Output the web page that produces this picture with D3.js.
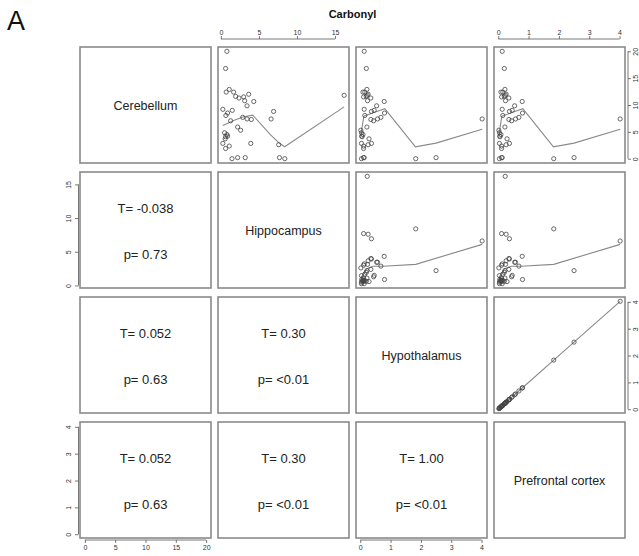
<!DOCTYPE html>
<html>
<head>
<meta charset="utf-8">
<script src="https://cdn.jsdelivr.net/npm/d3@7"></script>
<style>
  body { margin: 0; background: #fff; }
  svg { font-family: 'Liberation Sans', Arial, sans-serif; }
  .frame { fill: none; stroke: #8a8a8a; stroke-width: 1.6; }
  .pt { fill: none; stroke: #444; stroke-width: 0.8; }
  .smooth { fill: none; stroke: #8a8a8a; stroke-width: 1.1; }
  .tick line, .axisLine { stroke: #555; stroke-width: 0.8; }
  .tick text { fill: #333; font-size: 7px; }
</style>
</head>
<body>
<div id="chart"></div>
<script>
const WIDTH = 639;
const HEIGHT = 556;
const LEFT = 80;
const TOP = 47;
const PANEL_W = 131;
const PANEL_H = 116;
const STEP_X = 138;
const STEP_Y = 125;

// variables, in matrix order
const regions = ['Cerebellum', 'Hippocampus', 'Hypothalamus', 'Prefrontal cortex'];

// one value per sample
const cerebellum = [20.0, 16.8, 12.4, 12.9, 12.4, 11.6, 11.3, 11.5, 10.8, 12.0, 10.65, 9.85, 9.2, 9.0, 8.5, 8.05,
  8.8, 7.4, 7.7, 7.4, 7.3, 7.06, 5.9, 5.3, 4.83, 4.5, 4.1, 4.2, 3.7, 2.85, 2.85, 2.35, 1.9, 2.6, 0.0, 0.2, 0.2, 0.2, 0.0, 11.8];
const hippocampus = [0.79, 0.62, 0.70, 1.10, 1.68, 1.94, 2.38, 3.00, 3.13, 3.66, 4.32, 3.44, 0.26, 1.50, 0.88, 0.66,
  6.93, 6.60, 2.87, 3.44, 4.00, 1.28, 2.20, 2.60, 0.49, 0.79, 0.62, 0.88, 0.57, 0.26, 3.93, 1.10, 0.62, 7.60, 1.46, 2.20, 3.20, 7.70, 8.40, 16.20];
const hypothalamus = [0.13, 0.20, 0.09, 0.22, 0.15, 0.20, 0.35, 0.11, 0.24, 0.26, 0.79, 0.54, 0.13, 0.46, 0.80, 0.15,
  0.37, 4.02, 0.68, 0.57, 0.35, 0.44, 0.22, 0.02, 0.04, 0.09, 0.06, 0.05, 0.29, 0.04, 0.37, 0.11, 0.11, 0.26, 0.04, 2.50, 0.13, 0.11, 1.83, 0.23];
const prefrontal = [0.13, 0.20, 0.09, 0.22, 0.15, 0.20, 0.35, 0.11, 0.24, 0.26, 0.79, 0.54, 0.13, 0.46, 0.80, 0.15,
  0.37, 4.02, 0.68, 0.57, 0.35, 0.44, 0.22, 0.02, 0.04, 0.09, 0.06, 0.05, 0.29, 0.04, 0.37, 0.11, 0.11, 0.26, 0.04, 2.50, 0.13, 0.11, 1.83, 0.23];

// smoother lines as drawn in the panels, [x, y]
const smoothHippoCere = [[0.26, 6.2], [1.68, 7.1], [3.0, 7.8], [4.2, 8.1], [6.5, 4.5], [7.6, 3.0], [8.38, 2.23], [16.2, 9.65]];
const smoothHypoCere = [[0.02, 4.5], [0.12, 7.9], [0.45, 8.6], [0.81, 9.3], [1.82, 2.2], [2.5, 2.9], [4.02, 5.5]];
const smoothPrefCere = [[0.02, 4.5], [0.12, 7.9], [0.45, 8.6], [0.81, 9.3], [1.82, 2.2], [2.5, 2.9], [4.02, 5.5]];
const smoothHypoHippo = [[0.03, 1.2], [0.2, 2.45], [0.42, 2.84], [0.75, 2.84], [1.83, 3.13], [4.02, 6.1]];
const smoothPrefHippo = [[0.03, 1.2], [0.2, 2.45], [0.42, 2.84], [0.75, 2.84], [1.83, 3.13], [4.02, 6.1]];
const smoothPrefHypo = [[0.02, 0.02], [0.8, 0.8], [1.83, 1.83], [2.5, 2.5], [4.02, 4.02]];

// Kendall tau and p for the lower panels
const statCells = [[1, 0], [2, 0], [3, 0], [2, 1], [3, 1], [3, 2]];
const tauLabels = ['-0.038', '0.052', '0.052', '0.30', '0.30', '1.00'];
const pLabels = ['0.73', '0.63', '0.63', '<0.01', '<0.01', '<0.01'];

// axis ticks
const cereTicks = [0, 5, 10, 15, 20];
const hippoTicks = [0, 5, 10, 15];
const hypoTicks = [0, 1, 2, 3, 4];
const prefTicks = [0, 1, 2, 3, 4];

const values = [cerebellum, hippocampus, hypothalamus, prefrontal];
const ticks = [cereTicks, hippoTicks, hypoTicks, prefTicks];
const smooths = {
  '0-1': smoothHippoCere, '0-2': smoothHypoCere, '0-3': smoothPrefCere,
  '1-2': smoothHypoHippo, '1-3': smoothPrefHippo, '2-3': smoothPrefHypo
};
const fmt = d3.format('d');
let svg, xScales, yScales;

function paddedDomain(vals) {
  let [lo, hi] = d3.extent(vals);
  let pad = (hi - lo) * 0.04;
  return [lo - pad, hi + pad];
}

function buildScales() {
  xScales = values.map((vals, j) => d3.scaleLinear()
    .domain(paddedDomain(vals))
    .range([LEFT + j * STEP_X, LEFT + j * STEP_X + PANEL_W]));
  yScales = values.map((vals, i) => d3.scaleLinear()
    .domain(paddedDomain(vals))
    .range([TOP + i * STEP_Y + PANEL_H, TOP + i * STEP_Y]));
}

function drawFrames() {
  let cells = d3.cross(d3.range(4), d3.range(4));
  svg.append('g').selectAll('rect')
    .data(cells)
    .join('rect')
    .attr('class', 'frame')
    .attr('x', ([i, j]) => LEFT + j * STEP_X)
    .attr('y', ([i, j]) => TOP + i * STEP_Y)
    .attr('width', PANEL_W)
    .attr('height', PANEL_H);
}

function drawScatter(i, j) {
  let x = xScales[j];
  let y = yScales[i];
  let g = svg.append('g');

  g.append('path')
    .datum(smooths[i + '-' + j])
    .attr('class', 'smooth')
    .attr('d', d3.line().x((d) => x(d[0])).y((d) => y(d[1])));

  g.selectAll('circle')
    .data(values[j].map((v, k) => [v, values[i][k]]))
    .join('circle')
    .attr('class', 'pt')
    .attr('cx', (d) => x(d[0]))
    .attr('cy', (d) => y(d[1]))
    .attr('r', 2.1);
}

function drawNames() {
  svg.append('g').selectAll('text')
    .data(regions)
    .join('text')
    .attr('x', (d, k) => LEFT + k * STEP_X + PANEL_W / 2)
    .attr('y', (d, k) => TOP + k * STEP_Y + PANEL_H / 2 + 4.5)
    .attr('text-anchor', 'middle')
    .attr('font-size', 12.5)
    .attr('fill', '#222')
    .text((d) => d);
}

function drawStats() {
  let g = svg.append('g')
    .attr('font-size', 13)
    .attr('fill', '#222')
    .attr('text-anchor', 'middle');

  statCells.forEach(([i, j], k) => {
    let cx = LEFT + j * STEP_X + PANEL_W / 2;
    let cy = TOP + i * STEP_Y + PANEL_H / 2;
    g.append('text').attr('x', cx).attr('y', cy - 17).text('T= ' + tauLabels[k]);
    g.append('text').attr('x', cx).attr('y', cy + 29).text('p= ' + pLabels[k]);
  });
}

function axisLine(g, tickVals, scale, vertical) {
  let a = scale(tickVals[0]);
  let b = scale(tickVals[tickVals.length - 1]);
  g.append('line')
    .attr('class', 'axisLine')
    .attr('x1', vertical ? 0 : a).attr('x2', vertical ? 0 : b)
    .attr('y1', vertical ? a : 0).attr('y2', vertical ? b : 0);
}

function drawAxes() {
  // top axes on columns 2 and 4
  [1, 3].forEach((j) => {
    let g = svg.append('g').attr('transform', `translate(0, ${TOP - 8})`);
    g.call(d3.axisTop(xScales[j]).tickValues(ticks[j]).tickFormat(fmt).tickSize(3).tickPadding(1.5).tickSizeOuter(0));
    g.select('.domain').remove();
    axisLine(g, ticks[j], xScales[j], false);
  });

  // bottom axes on columns 1 and 3
  [0, 2].forEach((j) => {
    let g = svg.append('g').attr('transform', `translate(0, ${TOP + 3 * STEP_Y + PANEL_H + 2})`);
    g.call(d3.axisBottom(xScales[j]).tickValues(ticks[j]).tickFormat(fmt).tickSize(3).tickPadding(2).tickSizeOuter(0));
    g.select('.domain').remove();
    axisLine(g, ticks[j], xScales[j], false);
  });

  // left axes on rows 2 and 4, labels turned
  [1, 3].forEach((i) => {
    let g = svg.append('g').attr('transform', `translate(${LEFT - 1.5}, 0)`);
    g.call(d3.axisLeft(yScales[i]).tickValues(ticks[i]).tickFormat(fmt).tickSize(3.5).tickSizeOuter(0));
    g.select('.domain').remove();
    g.selectAll('.tick text')
      .attr('x', null).attr('dy', null)
      .attr('text-anchor', 'middle')
      .attr('transform', 'translate(-7.5, 0) rotate(-90)');
    axisLine(g, ticks[i], yScales[i], true);
  });

  // right axes on rows 1 and 3
  [0, 2].forEach((i) => {
    let g = svg.append('g').attr('transform', `translate(${LEFT + 3 * STEP_X + PANEL_W + 3}, 0)`);
    g.call(d3.axisRight(yScales[i]).tickValues(ticks[i]).tickFormat(fmt).tickSize(3).tickSizeOuter(0));
    g.select('.domain').remove();
    g.selectAll('.tick text')
      .attr('x', null).attr('dy', null)
      .attr('text-anchor', 'middle')
      .attr('transform', 'translate(9.5, 0) rotate(-90)');
    axisLine(g, ticks[i], yScales[i], true);
  });
}

function drawTitles() {
  svg.append('text')
    .attr('x', LEFT + 2 * STEP_X - 3.5)
    .attr('y', 18)
    .attr('text-anchor', 'middle')
    .attr('font-size', 11)
    .attr('font-weight', 'bold')
    .attr('fill', '#111')
    .text('Carbonyl');

  svg.append('text')
    .attr('x', 7)
    .attr('y', 30)
    .attr('font-size', 27)
    .attr('fill', '#111')
    .text('A');
}

function buildChart(selector) {
  svg = d3.select(selector).append('svg')
    .attr('width', WIDTH)
    .attr('height', HEIGHT);

  buildScales();
  drawFrames();
  for (let i = 0; i < 4; i++) {
    for (let j = i + 1; j < 4; j++) drawScatter(i, j);
  }
  drawNames();
  drawStats();
  drawAxes();
  drawTitles();
}

buildChart('#chart');
</script>
</body>
</html>
